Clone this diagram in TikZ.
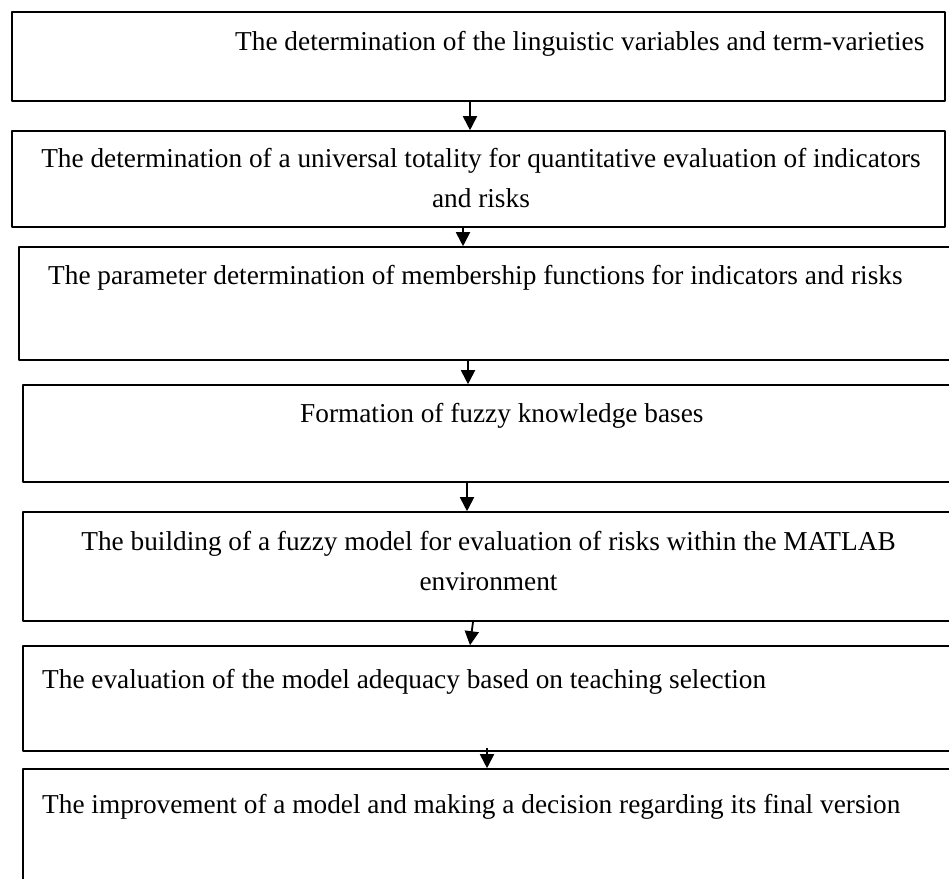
\documentclass[tikz,border=0pt]{standalone}
\usepackage{fontspec}
\setmainfont{Liberation Serif}
\usetikzlibrary{arrows.meta}
\begin{document}
\begin{tikzpicture}[x=1pt,y=-1pt,line join=bevel,
  stage/.style={draw=black,line width=1.6pt,inner sep=0pt,minimum height=#1},
  label/.style={inner sep=0pt,font=\fontsize{27.3}{40}\selectfont},
  flow/.style={black,line width=1.8pt,-{Triangle[width=14pt,length=14pt]}}]
\clip (0,0) rectangle (949,878);
\useasboundingbox (0,0) rectangle (949,878);
%%
  \node (box_0) at (478.5,56.5) [stage=89pt,minimum width=933pt] {};
  \node (box_1) at (478.5,179) [stage=96pt,minimum width=933pt] {};
  \node (box_2) at (492,303.5) [stage=113pt,minimum width=946pt] {};
  \node (box_3) at (494,433.5) [stage=97pt,minimum width=942pt] {};
  \node (box_4) at (494,566.5) [stage=109pt,minimum width=942pt] {};
  \node (box_5) at (494,698.5) [stage=105pt,minimum width=942pt] {};
  \node (box_6) at (494,834.5) [stage=131pt,minimum width=942pt] {};

  \node (text_0) at (235,50) [label,anchor=base west] {The determination of the linguistic variables and term-varieties};
  \node (text_1) at (481,207) [label,anchor=base,align=center] {The determination of a universal totality for quantitative evaluation of indicators\\ and risks};
  \node (text_2) at (48,284) [label,anchor=base west] {The parameter determination of membership functions for indicators and risks};
  \node (text_3) at (300,422) [label,anchor=base west] {Formation of fuzzy knowledge bases};
  \node (text_4) at (488.5,590) [label,anchor=base,align=center] {The building of a fuzzy model for evaluation of risks within the MATLAB\\ environment};
  \node (text_5) at (42,688) [label,anchor=base west] {The evaluation of the model adequacy based on teaching selection};
  \node (text_6) at (42,813) [label,anchor=base west] {The improvement of a model and making a decision regarding its final version};

  \draw [flow] ([xshift=-8.5pt]box_0.south) -- ([xshift=-8.5pt]box_1.north);
  \draw [flow] ([xshift=-15.5pt]box_1.south) -- ([xshift=-29pt]box_2.north);
  \draw [flow] ([xshift=-24pt]box_2.south) -- ([xshift=-26pt]box_3.north);
  \draw [flow] ([xshift=-27pt]box_3.south) -- ([xshift=-27pt]box_4.north);
  \draw [flow] ([xshift=-21pt]box_4.south) -- ([xshift=-24pt]box_5.north);
  \draw [flow] ([xshift=-7pt,yshift=4pt]box_5.south) -- ([xshift=-7pt]box_6.north);
%
\end{tikzpicture}
\end{document}
